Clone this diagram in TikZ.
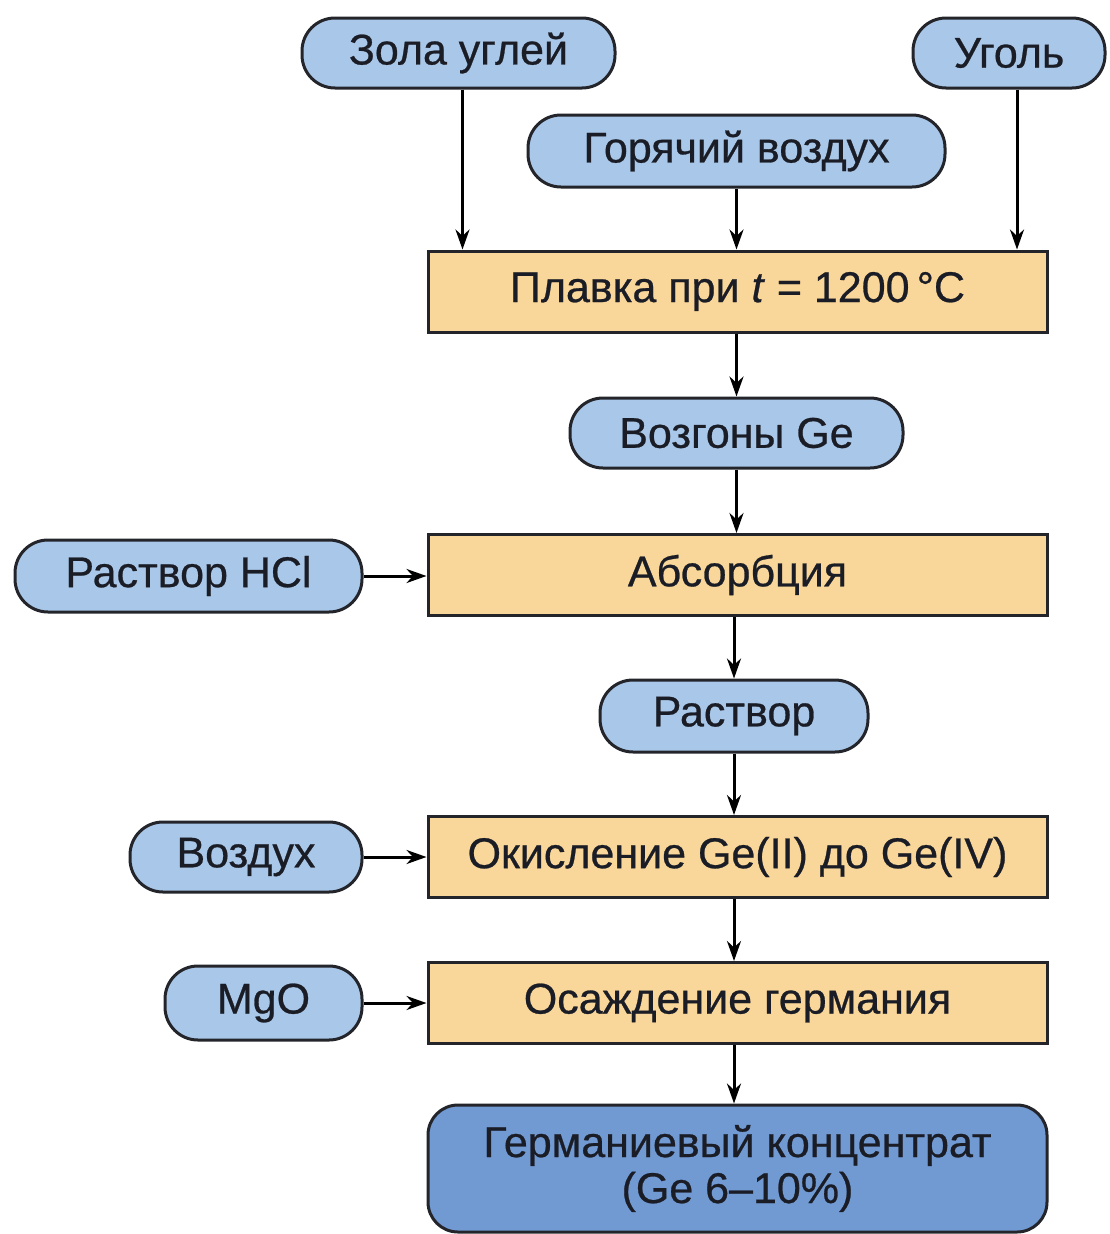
\documentclass[tikz,border=0pt]{standalone}
\usepackage{fontspec}
\setmainfont{Liberation Sans}[UprightFeatures={FakeBold=0.6},ItalicFeatures={FakeBold=0.6}]
\usetikzlibrary{arrows.meta}
\definecolor{pillblue}{HTML}{A9C7E8}
\definecolor{boxorange}{HTML}{F9D699}
\definecolor{finalblue}{HTML}{7199D2}
\definecolor{edge}{HTML}{23252B}
\definecolor{txt}{HTML}{1B1D26}
\tikzset{
  x=1pt, y=-1pt,
  base/.style={draw=edge, line width=3pt, inner sep=0pt, text=txt,
    font=\fontsize{43}{46}\selectfont},
  pill/.style={base, fill=pillblue, rounded corners=33pt},
  procbox/.style={base, fill=boxorange, minimum width=619pt, minimum height=81pt},
  finalbox/.style={base, fill=finalblue, rounded corners=30pt, align=center,
    minimum width=619pt, minimum height=127pt},
  arr/.style={draw=black, line width=3pt, -{Stealth[length=20pt,width=14pt]}}
}
\begin{document}
\begin{tikzpicture}
\useasboundingbox (0,0) rectangle (1109,1234);
% input pills
\node[pill, minimum width=313pt, minimum height=70pt] (zola) at (458.5,53) {Зола углей};
\node[pill, minimum width=192pt, minimum height=70pt] (ugol) at (1009,53) {Уголь};
\node[pill, minimum width=417pt, minimum height=72pt] (hot) at (736.5,151) {Горячий воздух};
% main column
\node[procbox] (plavka) at (737.5,291.5) {Плавка при \textit{t} = 1200\,°C};
\node[pill, minimum width=333pt, minimum height=70pt] (vozg) at (736.5,433) {Возгоны Ge};
\node[procbox] (absorb) at (737.5,575) {Абсорбция};
\node[pill, minimum width=347pt, minimum height=72pt] (hcl) at (188.5,576) {Раствор HCl};
\node[pill, minimum width=268pt, minimum height=72pt] (rastvor) at (734,716) {Раствор};
\node[procbox] (okisl) at (737.5,857) {Окисление Ge(II) до Ge(IV)};
\node[pill, minimum width=232pt, minimum height=70pt] (vozd) at (246,857) {Воздух};
\node[procbox] (osazh) at (737.5,1003) {Осаждение германия};
\node[pill, minimum width=197pt, minimum height=74pt] (mgo) at (263.5,1003) {MgO};
\node[finalbox] (final) at (737.5,1168.5) {Германиевый концентрат\\(Ge 6–10\%)};
% connectors
\draw[arr] ([xshift=4pt]zola.south) -- ([xshift=4pt]zola.south |- plavka.north);
\draw[arr] (hot.south) -- (hot.south |- plavka.north);
\draw[arr] ([xshift=8pt]ugol.south) -- ([xshift=8pt]ugol.south |- plavka.north);
\draw[arr] (plavka.south -| vozg.north) -- (vozg.north);
\draw[arr] (vozg.south) -- (vozg.south |- absorb.north);
\draw[arr] (hcl.east) -- (hcl.east -| absorb.west);
\draw[arr] (absorb.south -| rastvor.north) -- (rastvor.north);
\draw[arr] (rastvor.south) -- (rastvor.south |- okisl.north);
\draw[arr] (vozd.east) -- (vozd.east -| okisl.west);
\draw[arr] (okisl.south -| rastvor.south) -- (osazh.north -| rastvor.south);
\draw[arr] (mgo.east) -- (mgo.east -| osazh.west);
\draw[arr] (osazh.south -| rastvor.south) -- (final.north -| rastvor.south);
\end{tikzpicture}
\end{document}
